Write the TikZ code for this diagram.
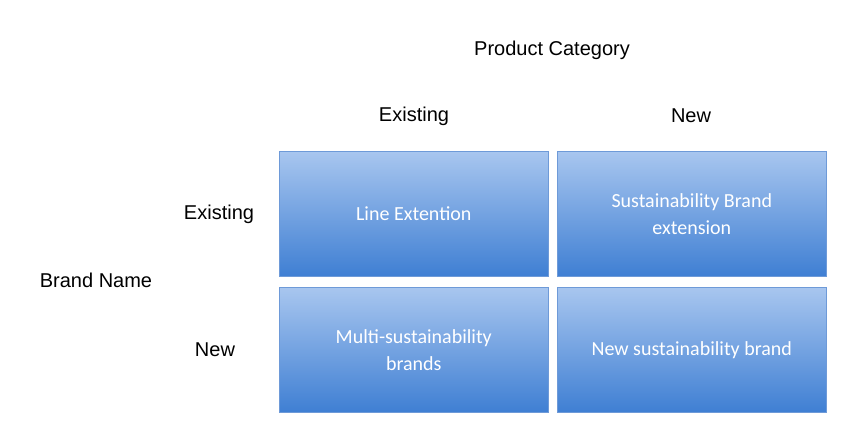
\documentclass[tikz,border=0pt]{standalone}
\usepackage{fontspec}
\setmainfont{Liberation Sans}
\newfontfamily\boxfont{Carlito}
\definecolor{topc}{HTML}{A8C6EF}
\definecolor{botc}{HTML}{3F7FD3}
\definecolor{edgec}{HTML}{6E9AD8}
\begin{document}
\begin{tikzpicture}[x=1pt,y=-1pt,
  cell/.style={draw=edgec,line width=0.6pt,top color=topc,bottom color=botc,minimum width=269pt,minimum height=125pt,anchor=north west,inner sep=0pt,align=center,text=white,font=\boxfont\fontsize{20}{27}\selectfont},
  lab/.style={font=\fontsize{20}{24}\selectfont,text=black}]
\useasboundingbox[fill=white] (0,0) rectangle (860,446);
\node[cell] (a) at (279,151) {Line Extention};
\node[cell] (b) at (557,151) {Sustainability Brand\\extension};
\node[cell] (c) at (279,287) {Multi-sustainability\\brands};
\node[cell] (d) at (557,287) {New sustainability brand};
\node[lab] (pc) at (552,50) {Product Category};
\node[lab] (ce) at (414,116) {Existing};
\node[lab] (cn) at (691,116) {New};
\node[lab] (re) at (219,214) {Existing};
\node[lab] (rn) at (215,350) {New};
\node[lab] (bn) at (96,280) {Brand Name};
\end{tikzpicture}
\end{document}
